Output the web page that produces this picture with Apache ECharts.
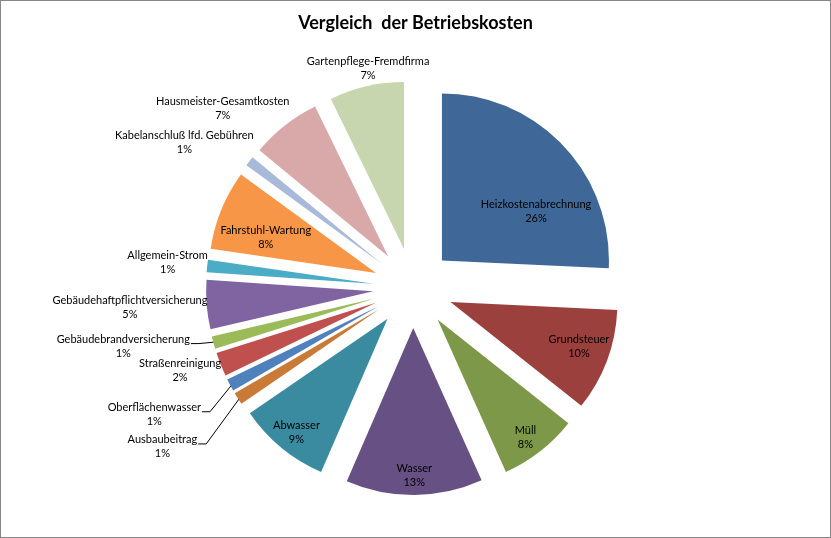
<!DOCTYPE html>
<html>
<head>
<meta charset="utf-8">
<title>Vergleich der Betriebskosten</title>
<script src="https://cdn.jsdelivr.net/npm/echarts@6/dist/echarts.min.js"></script>
<style>
html, body { margin: 0; padding: 0; background: #fff; }
#wrap { position: relative; width: 831px; height: 538px; }
#wrap::after { content: ''; position: absolute; left: 0; top: 0; right: 0; bottom: 0;
  border: 1px solid #868686; pointer-events: none; }
#main { width: 831px; height: 538px; }
</style>
</head>
<body>
<div id="wrap"><div id="main"></div></div>
<script>
// Kostenarten, im Uhrzeigersinn ab 12 Uhr
var categories = ['Heizkostenabrechnung', 'Grundsteuer', 'Müll', 'Wasser', 'Abwasser',
  'Ausbaubeitrag', 'Oberflächenwasser', 'Straßenreinigung', 'Gebäudebrandversicherung',
  'Gebäudehaftpflichtversicherung', 'Allgemein-Strom', 'Fahrstuhl-Wartung',
  'Kabelanschluß lfd. Gebühren', 'Hausmeister-Gesamtkosten', 'Gartenpflege-Fremdfirma'];
// Anteile in %, aus dem Bild geschätzt
var values = [25.7, 9.9, 7.6, 13.2, 8.9, 1.2, 1.2, 2.3, 1.2, 4.75, 1.2, 7.7, 0.95, 6.8, 7.2];

var colors = ['#3f6898', '#9b403d', '#7d9848', '#675083', '#3b8ba0', '#c97a37',
  '#4f81bd', '#c0504d', '#9bbb59', '#8064a2', '#4bacc6', '#f79646',
  '#a9b9d9', '#d9a9a9', '#c7d6ae'];

// Beschriftung: [Abstand / Radius, Winkelversatz zur Segmentmitte]
var labelPlace = [[0.869, 11.6], [1.054, -1.1], [1.118, 0.85], [1.123, 0], [1.110, -0.55],
  [1.777, -0.1], [1.725, 1.85], [1.480, 2.1], [1.770, 3.9], [1.699, 0.65],
  [1.477, -0.3], [0.932, -3.25], [1.623, -5.3], [1.567, -8.4], [1.339, 1.4]];
var labelInside = [1, 1, 1, 1, 1, 0, 0, 0, 0, 0, 0, 1, 0, 0, 0];
var withLeader = [0, 0, 0, 0, 0, 1, 1, 0, 1, 0, 0, 0, 0, 0, 0];

var cx = 413, cy = 288, R = 167, explode = 40;
var fontName = 'Lato';

var total = values.reduce(function (a, b) { return a + b; }, 0);
var midAngle = [];
var acc = 0;
values.forEach(function (v) {
  midAngle.push((acc + v / 2) / total * 360);
  acc += v;
});

function polar(d, deg) {
  var r = deg * Math.PI / 180;
  return [cx + d * Math.sin(r), cy - d * Math.cos(r)];
}

// Segmente (herausgezogen)
var pieData = categories.map(function (name, i) {
  return {
    name: name,
    value: values[i],
    selected: true,
    itemStyle: { color: colors[i] }
  };
});

// gleiche Werte, nur für die Beschriftung
var labelData = categories.map(function (name, i) {
  return {
    name: name,
    value: values[i],
    label: { position: labelInside[i] ? 'inside' : 'outside' },
    labelLine: { show: !!withLeader[i] }
  };
});

var option = {
  animation: false,
  title: {
    text: 'Vergleich  der Betriebskosten',
    left: 'center',
    top: 9,
    textStyle: { fontFamily: fontName, fontSize: 18, fontWeight: 'bold', color: '#000' }
  },
  series: [{
    type: 'pie',
    center: [cx, cy],
    radius: R,
    startAngle: 90,
    clockwise: true,
    selectedMode: 'multiple',
    selectedOffset: explode,
    emphasis: { disabled: true },
    select: { itemStyle: { borderWidth: 0 } },
    itemStyle: { borderWidth: 0 },
    label: { show: false },
    labelLine: { show: false },
    data: pieData
  }, {
    type: 'pie',
    silent: true,
    center: [cx, cy],
    radius: R,
    startAngle: 90,
    clockwise: true,
    avoidLabelOverlap: false,
    percentPrecision: 0,
    emphasis: { disabled: true },
    itemStyle: { color: 'rgba(0,0,0,0)', borderWidth: 0 },
    label: {
      show: true,
      formatter: '{b}\n{d}%',
      color: '#000',
      fontFamily: fontName,
      fontSize: 11,
      lineHeight: 14
    },
    labelLine: { length: 4, length2: 4, lineStyle: { color: '#000', width: 1 } },
    labelLayout: function (p) {
      var i = p.dataIndex;
      var pl = labelPlace[i];
      var pos = polar(pl[0] * R, midAngle[i] + pl[1]);
      var out = { x: pos[0], y: pos[1], align: 'center', verticalAlign: 'middle' };
      if (withLeader[i]) {
        // Führungslinie: vom Textende waagrecht, dann zum Segmentrand
        var right = pos[0] + p.labelRect.width / 2;
        var ly = pos[1] - 3;
        var tip = polar(explode + R - 3, midAngle[i]);
        out.labelLinePoints = [[right + 1, ly], [right + 9, ly], tip];
      }
      return out;
    },
    data: labelData
  }]
};

var myChart = echarts.init(document.getElementById('main'));
myChart.setOption(option);
</script>
</body>
</html>
